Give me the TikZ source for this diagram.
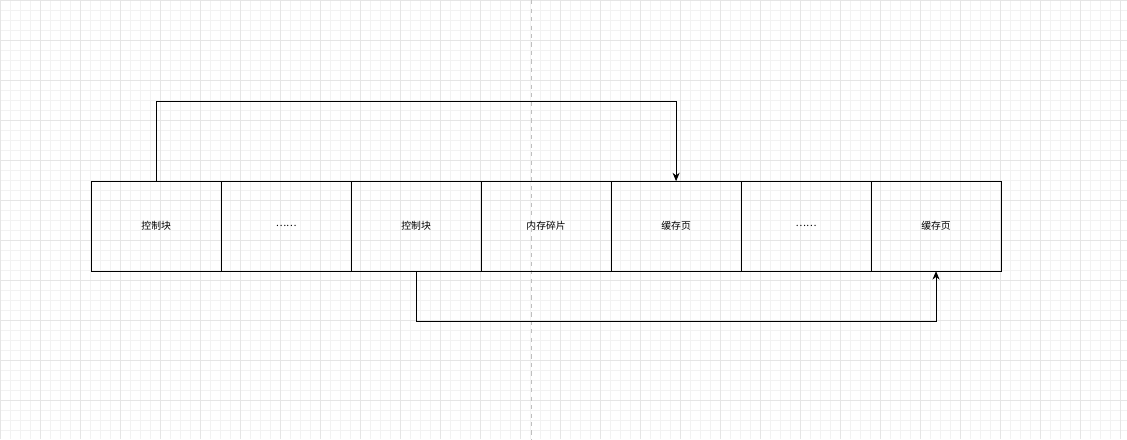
\documentclass[tikz,border=0pt]{standalone}
\usepackage{fontspec}
\setmainfont{Noto Sans CJK SC}
\usetikzlibrary{positioning, arrows, arrows.meta}
\tikzstyle{cell} = [rectangle, minimum width=3.25cm, minimum height=2.25cm, outer sep=0pt, text centered, draw=black, line width=0.6pt, font=\scriptsize, inner sep=0pt]
\tikzstyle{arrow} = [line width=0.6pt,-{Stealth[length=6pt,width=5pt]}]
\begin{document}
\begin{tikzpicture}[x=0.025cm, y=-0.025cm, node distance=0cm]
        % background grid
        \fill[white] (0,0) rectangle (1127,439);
        \draw[black!5, line width=0.3pt, step=0.25cm] (0,0) grid (1127,439);
        \draw[black!10, line width=0.4pt, step=1cm] (0,0) grid (1127,439);
        \draw[black!25, dashed, line width=0.4pt] (531,0) -- (531,439);
        \useasboundingbox (0,0) rectangle (1127,439);

        \node (ctrl1) [cell] at (156,226) {控制块};
        \node (dots1) [cell, right=of ctrl1] {……};
        \node (ctrl2) [cell, right=of dots1] {控制块};
        \node (frag) [cell, right=of ctrl2] {内存碎片};
        \node (page1) [cell, right=of frag] {缓存页};
        \node (dots2) [cell, right=of page1] {……};
        \node (page2) [cell, right=of dots2] {缓存页};

        \draw [arrow] (ctrl1.north) -- ++(0,-80) -| (page1.north);
        \draw [arrow] (ctrl2.south) -- ++(0,50) -| (page2.south);
\end{tikzpicture}
\end{document}
